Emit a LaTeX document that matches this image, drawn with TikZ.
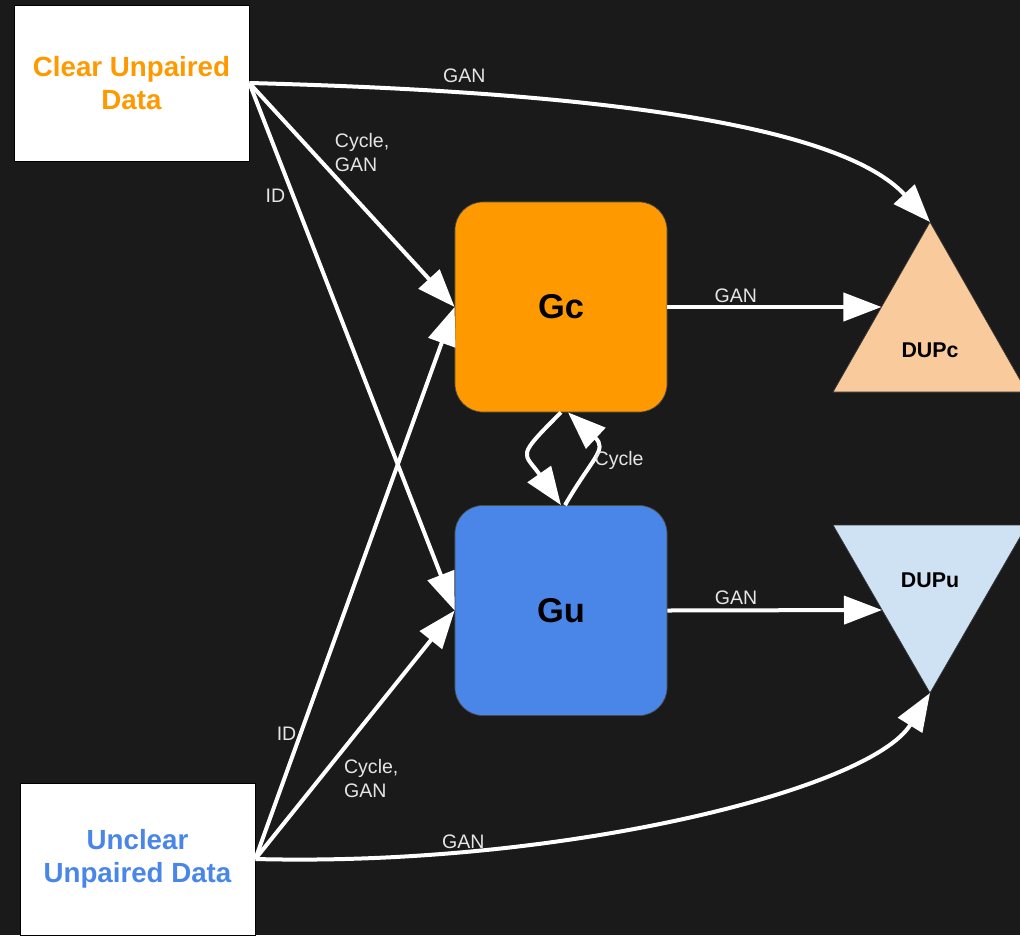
\documentclass[tikz,border=0pt]{standalone}
\usepackage{fontspec}
\setmainfont{Liberation Sans}
\usetikzlibrary{arrows.meta}
\definecolor{bgdark}{RGB}{26,26,26}
\definecolor{gorange}{RGB}{255,153,0}
\definecolor{gblue}{RGB}{74,134,232}
\definecolor{dpeach}{RGB}{249,203,156}
\definecolor{dlblue}{RGB}{207,226,243}
\begin{document}
\begin{tikzpicture}[x=0.025cm, y=-0.025cm,
	databox/.style={draw=black, line width=0.4pt, fill=white, minimum width=5.875cm, align=center, font=\fontsize{19.7}{23.5}\selectfont\bfseries},
	genbox/.style={draw=black!70, line width=0.5pt, rounded corners=0.7cm, minimum width=5.3cm, minimum height=5.25cm, font=\fontsize{24.5}{29}\selectfont\bfseries},
	lbl/.style={text=white!90!black, font=\fontsize{13.9}{17}\selectfont, inner sep=0pt, align=left},
	dlbl/.style={font=\fontsize{15.2}{18}\selectfont\bfseries},
	flow/.style={draw=white, line width=0.1cm, -{Triangle[length=0.95cm, width=0.7cm]}},
	tri/.style={draw=black!80, line width=0.5pt}]
	\useasboundingbox (0,0) rectangle (1020,935);
	\fill[bgdark] (0,0) rectangle (1020,935);
	\clip (0,0) rectangle (1020,935);

	\node[databox, minimum height=3.9cm, text=gorange] (clear) at (131.5,83) {Clear Unpaired\\Data};
	\node[databox, minimum height=3.8cm, text=gblue] (unclear) at (137.5,859) {Unclear\\Unpaired Data};
	\node[genbox, fill=gorange] (gc) at (561,307) {Gc};
	\node[genbox, fill=gblue] (gu) at (561,610.5) {Gu};

	\draw[tri, fill=dpeach] (930,222) coordinate (dupcTop) -- (1027,392) -- (833,392) -- cycle;
	\node[dlbl] (dupc) at (930,350) {DUPc};
	\coordinate (dupcIn) at (881.5,307);
	\draw[tri, fill=dlblue] (833,525) -- (1027,525) -- (930,693) coordinate (dupuTip) -- cycle;
	\node[dlbl] (dupu) at (930,580) {DUPu};
	\coordinate (dupuIn) at (882,610);

	\draw[flow] (clear.east) .. controls (600,92) and (840,125) .. node[lbl, pos=0.22, anchor=south, yshift=0.2cm] {GAN} (dupcTop);
	\draw[flow] (clear.east) -- node[lbl, pos=0.31, anchor=west, xshift=0.5cm] {Cycle,\\GAN} (gc.west);
	\draw[flow] (clear.east) -- node[lbl, pos=0.214, anchor=east, xshift=-0.15cm] {ID} (gu.west);
	\draw[flow] (unclear.east) -- node[lbl, pos=0.226, anchor=east, xshift=-0.05cm] {ID} (gc.west);
	\draw[flow] (unclear.east) -- node[lbl, pos=0.325, anchor=west, xshift=0.55cm] {Cycle,\\GAN} (gu.west);
	\draw[flow] (unclear.east) .. controls (560,867) and (870,790) .. node[lbl, pos=0.23, anchor=south, yshift=0.02cm] {GAN} (dupuTip);
	\draw[flow] (gc.east) -- node[lbl, pos=0.32, anchor=south, yshift=0.05cm] {GAN} (dupcIn);
	\draw[flow] (gu.east) -- node[lbl, pos=0.32, anchor=south, yshift=0.1cm] {GAN} (dupuIn);
	\draw[flow] (gc.south) to[out=-135, in=125, looseness=1.8] (gu.north);
	\draw[flow] ([xshift=0.1cm]gu.north) to[out=60, in=-43, looseness=1.5] node[lbl, anchor=west, xshift=0.025cm, yshift=-0.125cm] {Cycle} ([xshift=0.175cm]gc.south);
\end{tikzpicture}
\end{document}
